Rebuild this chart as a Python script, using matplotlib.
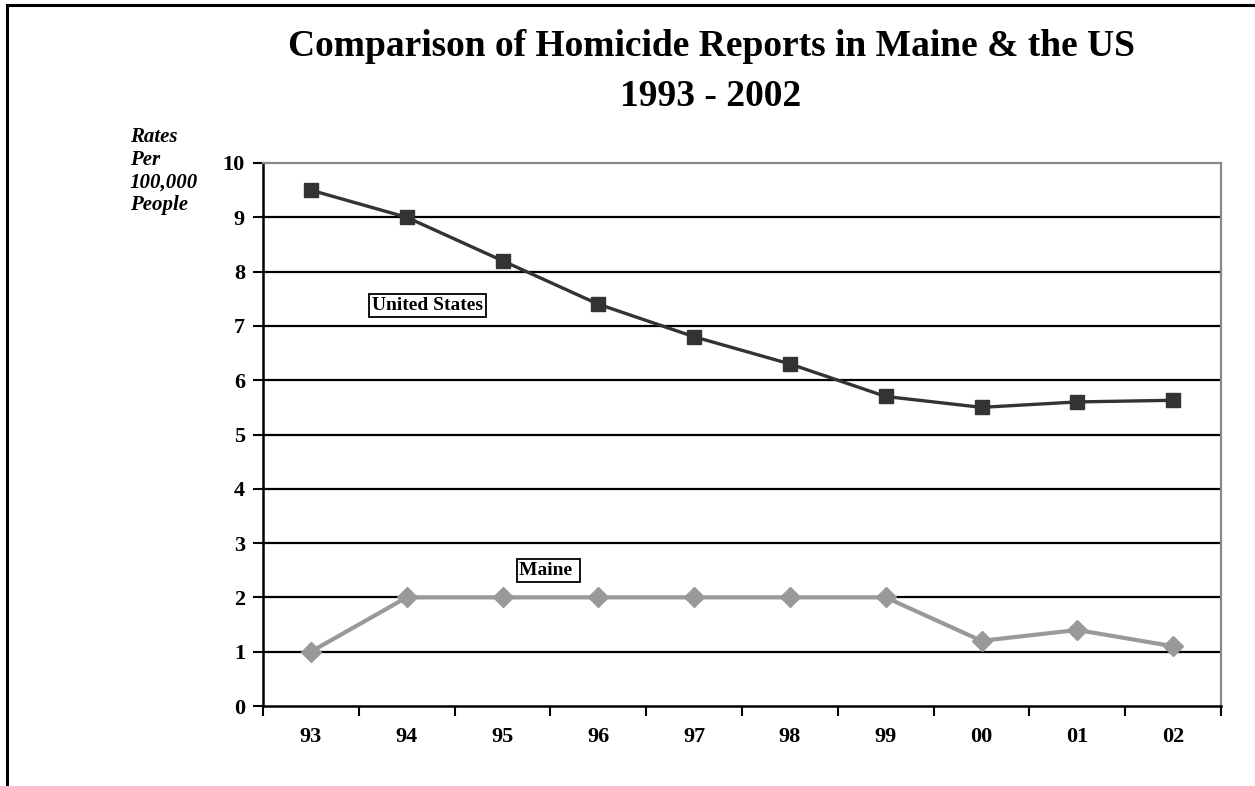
import matplotlib
matplotlib.use("Agg")
import matplotlib.pyplot as plt
from matplotlib.patches import Rectangle

years = ["93", "94", "95", "96", "97", "98", "99", "00", "01", "02"]
us_rates = [9.5, 9.0, 8.2, 7.4, 6.8, 6.3, 5.7, 5.5, 5.6, 5.63]
maine_rates = [1.0, 2.0, 2.0, 2.0, 2.0, 2.0, 2.0, 1.2, 1.4, 1.1]
y_ticks = list(range(0, 11))

title_line1 = "Comparison of Homicide Reports in Maine & the US"
title_line2 = "1993 - 2002"
ylabel = "Rates\nPer\n100,000\nPeople"

SERIF = ["Liberation Serif", "DejaVu Serif"]

W, H = 1255, 786
fig = plt.figure(figsize=(W / 100, H / 100), dpi=100)
fig.patch.set_facecolor("white")

# outer frame (cropped on right and bottom)
fig.patches.append(Rectangle((7 / W, -0.1), 1.2, 1 - 5 / H + 0.1,
                             transform=fig.transFigure, fill=False,
                             edgecolor="black", linewidth=2.2, clip_on=False))

left, right, top, bottom = 263 / W, 1221 / W, 1 - 163 / H, 1 - 706 / H
ax = fig.add_axes([left, bottom, right - left, top - bottom])

x = list(range(len(years)))
ax.plot(x, us_rates, color="#333333", linewidth=2.4, marker="s",
        markersize=10.5, zorder=4, clip_on=False)
ax.plot(x, maine_rates, color="#999999", linewidth=3.0, marker="D",
        markersize=10, zorder=4, clip_on=False)

ax.set_xlim(-0.5, len(years) - 0.5)
ax.set_ylim(0, 10)

for v in y_ticks[1:-1]:
    ax.axhline(v, color="black", linewidth=1.6, zorder=1)

ax.set_yticks(y_ticks)
ax.set_yticklabels([str(v) for v in y_ticks], fontfamily=SERIF,
                   fontweight="bold", fontsize=16)
ax.set_xticks(x)
ax.set_xticklabels(years, fontfamily=SERIF, fontweight="bold", fontsize=16)
ax.set_xticks([i - 0.5 for i in range(len(years) + 1)], minor=True)
ax.tick_params(axis="x", which="major", length=0, pad=15)
ax.tick_params(axis="x", which="minor", length=7, width=1.5, direction="out")
ax.tick_params(axis="y", which="major", length=7, width=1.5, direction="out", pad=6)

for s in ["left", "bottom"]:
    ax.spines[s].set_color("black")
    ax.spines[s].set_linewidth(1.8)
for s in ["top", "right"]:
    ax.spines[s].set_color("#888888")
    ax.spines[s].set_linewidth(1.6)

bbox = dict(boxstyle="square,pad=0.15", facecolor="white", edgecolor="black", linewidth=1.3)
ax.text(1.22, 7.37, "United States", ha="center", va="center", fontfamily=SERIF,
        fontweight="bold", fontsize=14, bbox=bbox, zorder=5)
ax.text(2.48, 2.49, "Maine ", ha="center", va="center", fontfamily=SERIF,
        fontweight="bold", fontsize=14, bbox=bbox, zorder=5)

fig.text(711 / W, 1 - 47 / H, title_line1, ha="center", va="center", fontfamily=SERIF,
         fontweight="bold", fontsize=27)
fig.text(711 / W, 1 - 96 / H, title_line2, ha="center", va="center", fontfamily=SERIF,
         fontweight="bold", fontsize=27)

fig.text(130 / W, 1 - 127 / H, ylabel, ha="left", va="top", fontfamily=SERIF,
         fontweight="bold", fontstyle="italic", fontsize=15, linespacing=1.18)

fig.savefig("out.png", dpi=100)
